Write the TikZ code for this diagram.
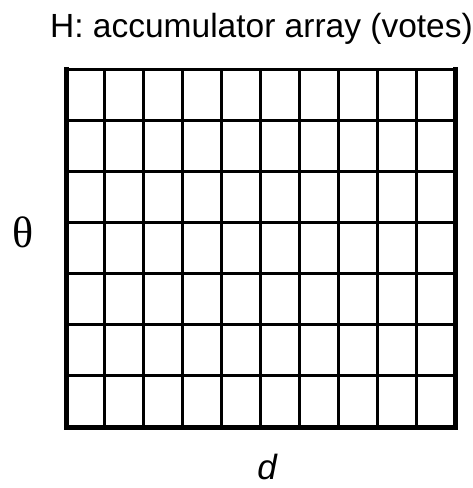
\documentclass[tikz,border=0pt]{standalone}
\usepackage{fontspec}
\setmainfont{Liberation Sans}
\newfontfamily\thetafont{Liberation Serif}
\tikzset{
  inner/.style={line width=3pt, black},
  outer/.style={line width=5pt, black, line cap=rect},
  outertop/.style={line width=3pt, black, line cap=rect},
  lbl/.style={inner sep=0pt, anchor=base}
}
\begin{document}
\begin{tikzpicture}[x=1pt,y=-1pt]
\useasboundingbox (0,0) rectangle (472,488);
% inner verticals
\foreach \i in {1,...,9} {
  \draw[inner] ({66+\i*38.9},69) -- ({66+\i*38.9},427);
}
% inner horizontals
\foreach \j in {1,...,6} {
  \draw[inner] (66,{69+\j*51.14}) -- (455,{69+\j*51.14});
}
% border
\draw[outertop] (66,69) -- (455,69);
\draw[outer] (66,69) -- (66,427) -- (455,427) -- (455,69);
\node[lbl] (title) at (261.5,37) {\fontsize{33.5}{40}\selectfont H: accumulator array (votes)};
\node[lbl] (theta) at (23.5,247) {\thetafont\fontsize{44}{50}\selectfont θ};
\node[lbl] (d) at (267,479) {\fontsize{35}{42}\selectfont\itshape d};
\end{tikzpicture}
\end{document}
